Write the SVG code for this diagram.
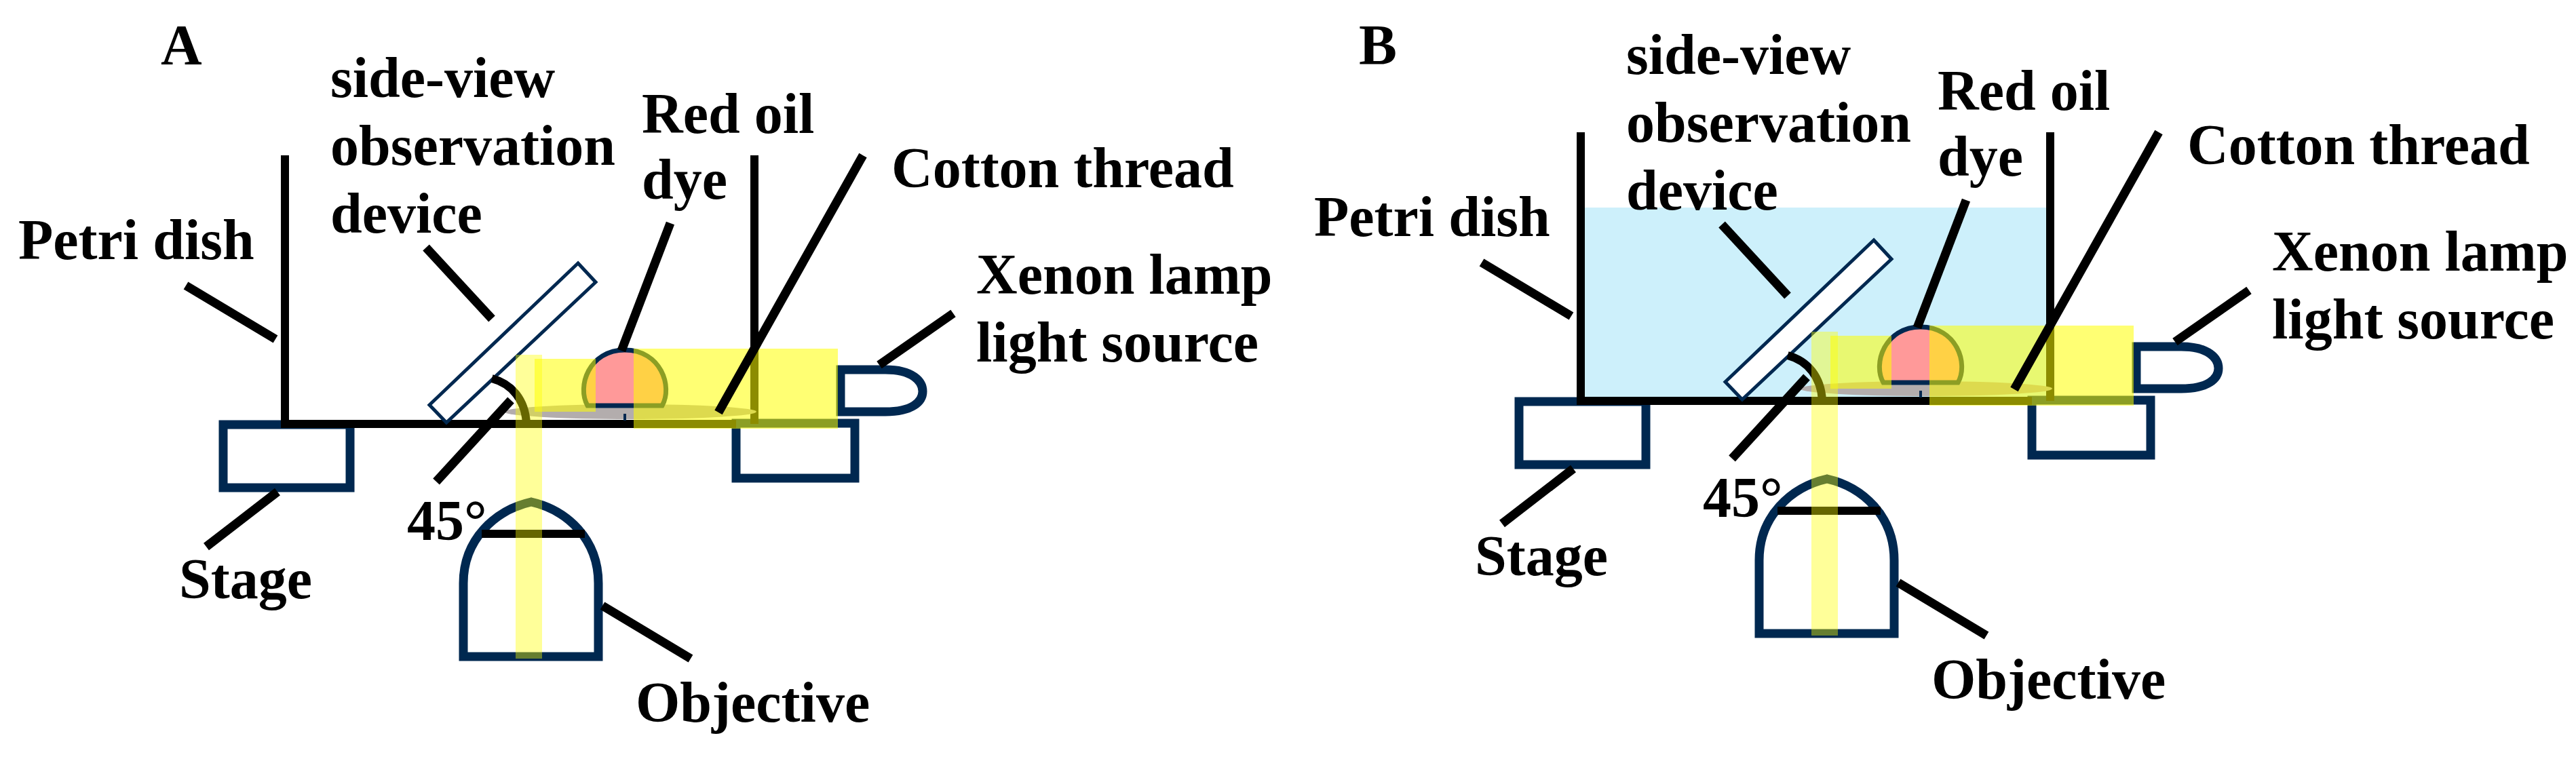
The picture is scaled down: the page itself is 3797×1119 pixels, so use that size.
<svg xmlns="http://www.w3.org/2000/svg" xmlns:xlink="http://www.w3.org/1999/xlink" width="3797" height="1119" viewBox="0 0 3797 1119">
<style>
text{font-family:"Liberation Serif","Times New Roman",serif;font-weight:bold;font-size:84px;fill:#000}
.nv{fill:none;stroke:#002850;stroke-width:13}
.bk{fill:none;stroke:#000;stroke-width:12}
.ld{fill:none;stroke:#000;stroke-width:13}
.yl{fill:#ffff00;opacity:0.55}
.yv{fill:#ffff00;opacity:0.4}
</style>
<defs>
<g id="scene">
  <g id="stage-left"><rect x="329" y="626" width="187" height="93" class="nv"/></g>
  <g id="stage-right"><rect x="1085" y="624" width="175" height="81" class="nv"/></g>
  <g id="dish">
    <line x1="420" y1="229" x2="420" y2="625" class="bk"/>
    <line x1="1112" y1="229" x2="1112" y2="625" class="bk"/>
    <line x1="414" y1="625" x2="1085" y2="625" class="bk" stroke-width="13"/>
  </g>
  <g id="thread"><ellipse cx="929" cy="607" rx="186" ry="11" fill="#b3adad"/></g>
  <g id="dye">
    <path d="M866,598 C850,570 868,516 921,516 C974,516 992,570 976,598 Z" fill="#ff9999" stroke="#002850" stroke-width="7"/>
    <line x1="921" y1="610" x2="921" y2="620" stroke="#002850" stroke-width="4"/>
  </g>
  <g id="mirror"><path d="M852,388 L878,416 L658,623 L633,597 Z" fill="#fff" stroke="#002850" stroke-width="5"/></g>
  <path d="M725,558 C755,566 774,590 776,624" class="bk"/>
  <g id="objective">
    <path d="M683,968 V860 C683,795 730,752 783,740 C836,752 882,795 882,860 V968 Z" class="nv"/>
    <line x1="710" y1="787" x2="862" y2="787" class="bk"/>
  </g>
  <g id="lamp"><path d="M1239,545 H1305 C1345,545 1360,562 1360,577 C1360,592 1345,607 1305,607 H1239 Z" class="nv"/></g>
  <g id="beams">
    <rect x="760" y="523" width="39" height="448" class="yv"/>
    <rect x="788" y="529" width="90" height="78" class="yl"/>
    <rect x="934" y="514" width="301" height="118" class="yl"/>
  </g>
  <g id="leaders">
    <line x1="274" y1="421" x2="406" y2="500" class="ld"/>
    <line x1="628" y1="365" x2="725" y2="470" class="ld"/>
    <line x1="988" y1="329" x2="916" y2="517" class="ld"/>
    <line x1="1272" y1="229" x2="1059" y2="608" class="ld"/>
    <line x1="1405" y1="462" x2="1296" y2="538" class="ld"/>
    <line x1="753" y1="590" x2="643" y2="710" class="ld"/>
    <line x1="409" y1="725" x2="304" y2="806" class="ld"/>
    <line x1="888" y1="893" x2="1018" y2="971" class="ld"/>
  </g>
</g>
</defs>
<g id="panelA">
  <use xlink:href="#scene"/>
  <text x="237" y="95">A</text>
  <text x="487" y="143">side-view</text>
  <text x="487" y="243">observation</text>
  <text x="487" y="343">device</text>
  <text x="946" y="196">Red oil</text>
  <text x="946" y="293">dye</text>
  <text x="1314" y="276">Cotton thread</text>
  <text x="27" y="382">Petri dish</text>
  <text x="1439" y="433">Xenon lamp</text>
  <text x="1439" y="533">light source</text>
  <text x="600" y="796">45°</text>
  <text x="264" y="882">Stage</text>
  <text x="937" y="1064">Objective</text>
</g>
<g id="panelB">
  <rect id="water" x="2336" y="306" width="680" height="284" fill="#cdf0fb"/>
  <use xlink:href="#scene" transform="translate(1910,-34)"/>
  <g transform="translate(1910,-34)">
  <text x="93" y="129">B</text>
  <text x="487" y="143">side-view</text>
  <text x="487" y="243">observation</text>
  <text x="487" y="343">device</text>
  <text x="946" y="196">Red oil</text>
  <text x="946" y="293">dye</text>
  <text x="1314" y="276">Cotton thread</text>
  <text x="27" y="382">Petri dish</text>
  <text x="1439" y="433">Xenon lamp</text>
  <text x="1439" y="533">light source</text>
  <text x="600" y="796">45°</text>
  <text x="264" y="882">Stage</text>
  <text x="937" y="1064">Objective</text>
  </g>
</g>
</svg>
